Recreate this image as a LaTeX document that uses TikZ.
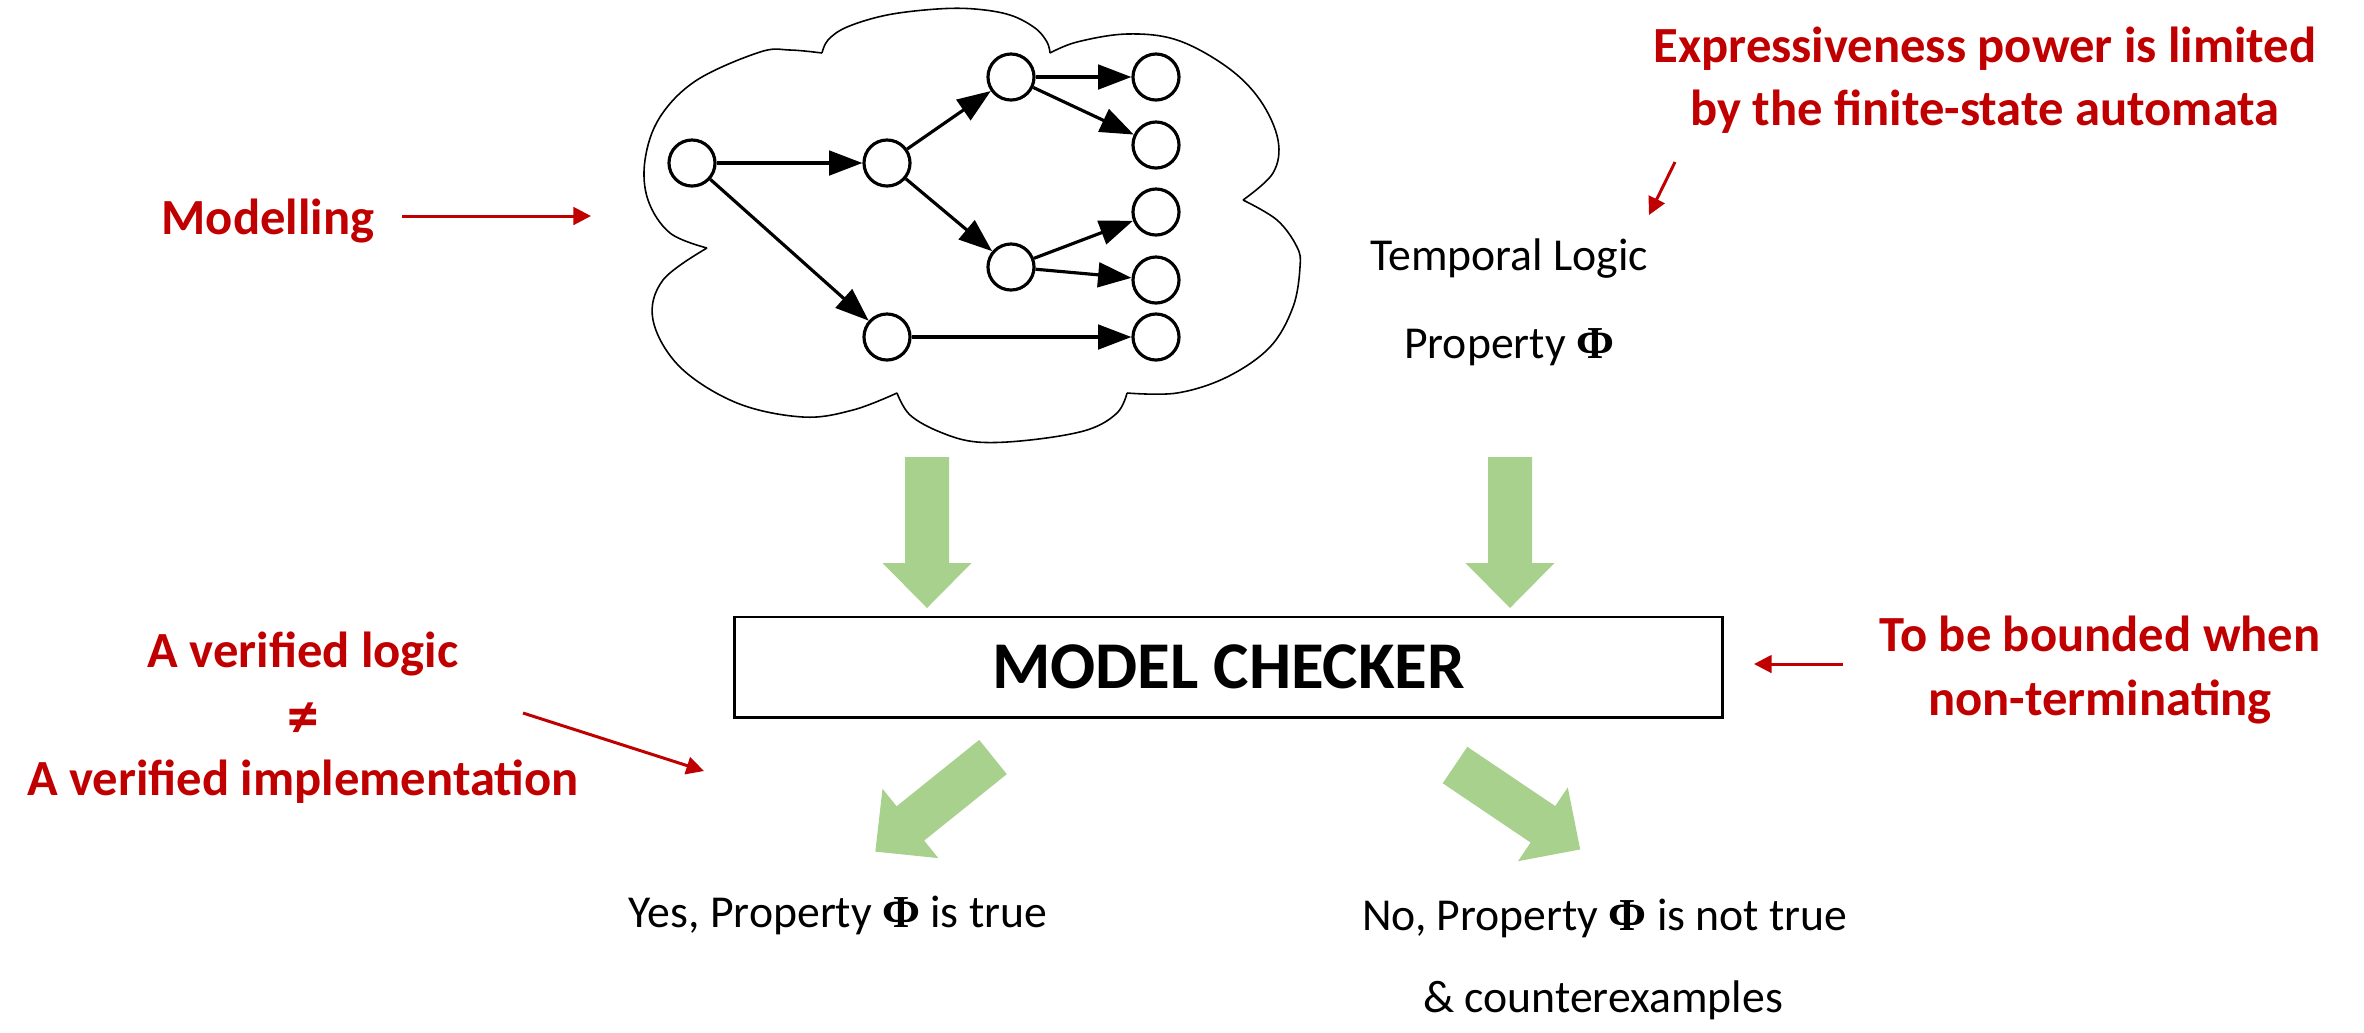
\documentclass[tikz,border=0pt]{standalone}
\usepackage{fontspec}
\setmainfont{Carlito}
\newfontfamily\phifont{Liberation Serif}
\usetikzlibrary{arrows.meta}
\definecolor{dred}{HTML}{C00000}
\definecolor{lgreen}{HTML}{A9D18E}
\newcommand\Phib{{\phifont\bfseries Φ}}
\begin{document}
\begin{tikzpicture}[x=0.01cm, y=-0.01cm,
  gstate/.style={circle, draw, line width=0.9pt, minimum size=0.46cm, inner sep=0pt},
  gedge/.style={line width=0.9pt, -{Triangle[length=9.5pt,width=7pt]}},
  redarrow/.style={dred, line width=0.85pt, -{Triangle[length=5pt,width=5pt]}},
  redtxt/.style={text=dred, font=\fontsize{14.4}{17}\selectfont\bfseries, inner sep=0pt, anchor=base},
  blktxt/.style={font=\fontsize{13}{16}\selectfont, inner sep=0pt, anchor=base},
  cloudline/.style={line width=0.45pt},
  bigarrow/.pic={\fill[lgreen] (0,-22) -- (106,-22) -- (106,-44.5) -- (151,0) -- (106,44.5) -- (106,22) -- (0,22) -- cycle;}
]
\useasboundingbox (0,0) rectangle (2364,1032);

% cloud
\draw[cloudline]
  plot[smooth, tension=0.6] coordinates {(822,53) (828,40) (847,27) (887,15) (937,9) (975,9) (1010,15) (1035,28) (1047,42) (1050,53)}
  plot[smooth, tension=0.6] coordinates {(1050,53) (1077,42) (1127,34) (1177,40) (1227,67) (1260,100) (1278,140) (1273,173) (1243,200)}
  plot[smooth, tension=0.6] coordinates {(1243,200) (1277,220) (1297,247) (1300,267) (1293,307) (1270,347) (1227,377) (1177,393) (1127,393)}
  plot[smooth, tension=0.6] coordinates {(1127,393) (1117,413) (1087,430) (1030,440) (977,442) (940,432) (910,415) (897,393)}
  plot[smooth, tension=0.6] coordinates {(897,393) (853,410) (803,417) (737,403) (680,367) (653,320) (663,280) (707,248)}
  plot[smooth, tension=0.6] coordinates {(707,248) (670,233) (648,200) (645,160) (660,117) (697,80) (760,52) (790,50) (822,53)};

% graph
\node[gstate] (n0) at (692,163) {};
\node[gstate] (n1) at (887,163) {};
\node[gstate] (n2) at (1011,77) {};
\node[gstate] (n3) at (1011,267) {};
\node[gstate] (n4) at (887,337) {};
\node[gstate] (r1) at (1156,77) {};
\node[gstate] (r2) at (1156,145) {};
\node[gstate] (r3) at (1156,212) {};
\node[gstate] (r4) at (1156,280) {};
\node[gstate] (r5) at (1156,337) {};
\draw[gedge] (n0) -- (n1);
\draw[gedge] (n0) -- (n4);
\draw[gedge] (n1) -- (n2);
\draw[gedge] (n1) -- (n3);
\draw[gedge] (n2) -- (r1);
\draw[gedge] (n2) -- (r2);
\draw[gedge] (n3) -- (r3);
\draw[gedge] (n3) -- (r4);
\draw[gedge] (n4) -- (r5);

% Modelling
\node[redtxt] (model) at (268,234) {Modelling};
\coordinate (modS) at (402,216);
\coordinate (modE) at (591,216);
\draw[redarrow] (modS) -- (modE);

% Temporal logic
\node[blktxt] (tl1) at (1509,270) {Temporal Logic};
\node[blktxt] (tl2) at (1509,358) {Property \Phib};

% Expressiveness
\node[redtxt] (ex1) at (1985,62) {Expressiveness power is limited};
\node[redtxt] (ex2) at (1985,125) {by the finite-state automata};
\coordinate (exS) at (1675,162);
\coordinate (exE) at (1649,215);
\draw[redarrow] (exS) -- (exE);

% green arrows
\pic[rotate=-90] at (927,457) {bigarrow};
\pic[rotate=-90] at (1510,457) {bigarrow};
\pic[rotate=-141.2] at (993,757) {bigarrow};
\pic[rotate=-34.0] at (1455,765) {bigarrow};

% model checker
\node[draw, line width=0.85pt, minimum width=9.87cm, minimum height=1.0cm, inner sep=0pt,
  font=\fontsize{19}{22}\selectfont\bfseries] (mc) at (1228.5,667) {MODEL CHECKER};

% bounded
\node[redtxt] (bd1) at (2100,651) {To be bounded when};
\node[redtxt] (bd2) at (2100,715) {non-terminating};
\coordinate (bdS) at (1843,664);
\coordinate (bdE) at (1754,664);
\draw[redarrow] (bdS) -- (bdE);

% verified
\node[redtxt] (vf1) at (303,667) {A verified logic};
\node[redtxt, font=\fontsize{18}{20}\selectfont\bfseries] (vf2) at (303,737) {≠};
\node[redtxt] (vf3) at (303,795) {A verified implementation};
\coordinate (vfS) at (523,713);
\coordinate (vfE) at (704,771);
\draw[redarrow] (vfS) -- (vfE);

% results
\node[blktxt] (yes) at (838,927) {Yes, Property \Phib{} is true};
\node[blktxt] (no1) at (1605,930) {No, Property \Phib{} is not true};
\node[blktxt] (no2) at (1603,1012) {\& counterexamples};
\end{tikzpicture}
\end{document}
